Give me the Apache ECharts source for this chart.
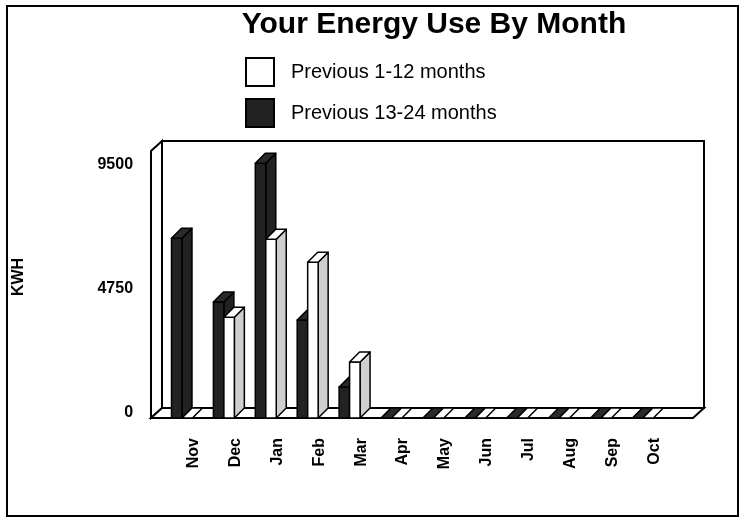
<!DOCTYPE html>
<html>
<head>
<meta charset="utf-8">
<script src="https://cdn.jsdelivr.net/npm/echarts@6/dist/echarts.min.js"></script>
<style>html,body{margin:0;padding:0;background:#fff}#c{width:739px;height:519px}</style>
</head>
<body>
<div id="c"></div>
<script>
const months = ['Nov','Dec','Jan','Feb','Mar','Apr','May','Jun','Jul','Aug','Sep','Oct'];
const prev1to12 = [0, 3850, 6830, 5950, 2140, 0, 0, 0, 0, 0, 0, 0];
const prev13to24 = [6870, 4430, 9730, 3740, 1180, 0, 0, 0, 0, 0, 0, 0];
const yTicks = [0, 4750, 9500];
const S1 = 'Previous 1-12 months';
const S2 = 'Previous 13-24 months';

const FONT = 'Liberation Sans, Arial, Helvetica, sans-serif';
const DX = 10, DY = 10;

function barRenderer(offsetFrac, frontFill, sideFill, topFill) {
  return function (params, api) {
    const cat = api.value(0), val = api.value(1);
    const base = api.coord([cat, 0]);
    const top = api.coord([cat, val]);
    const bw = api.size([1, 0])[0];
    const w = 0.25 * bw;
    const x0 = base[0] + offsetFrac * bw;
    const yb = base[1], yt = top[1];
    const st = {stroke: '#000', lineWidth: 1.5, lineJoin: 'round'};
    const children = [];
    if (yb - yt > 0.5) {
      children.push({type: 'polygon', shape: {points: [[x0 + w, yb], [x0 + w, yt], [x0 + w + DX, yt - DY], [x0 + w + DX, yb - DY]]},
        style: Object.assign({fill: sideFill}, st)});
      children.push({type: 'rect', shape: {x: x0, y: yt, width: w, height: yb - yt},
        style: Object.assign({fill: frontFill}, st)});
    }
    children.push({type: 'polygon', shape: {points: [[x0, yt], [x0 + w, yt], [x0 + w + DX, yt - DY], [x0 + DX, yt - DY]]},
      style: Object.assign({fill: topFill}, st)});
    return {type: 'group', children: children};
  };
}

const chart = echarts.init(document.getElementById('c'), null, {renderer: 'canvas'});
chart.setOption({
  animation: false,
  backgroundColor: '#fff',
  title: {
    text: 'Your Energy Use By Month', left: 434, top: 10, textAlign: 'center', padding: 0,
    textStyle: {fontSize: 30, fontWeight: 'bold', color: '#000', fontFamily: FONT}
  },
  legend: {
    orient: 'vertical', left: 245, top: 57, itemWidth: 28, itemHeight: 28, itemGap: 11, padding: 0,
    selectedMode: false,
    data: [
      {name: S1, icon: 'rect', itemStyle: {color: '#fff', borderColor: '#000', borderWidth: 2}},
      {name: S2, icon: 'rect', itemStyle: {color: '#222222', borderColor: '#000', borderWidth: 2}}
    ],
    textStyle: {fontSize: 20, color: '#000', fontFamily: FONT, padding: [0, 0, 6, 12]}
  },
  graphic: [
    {type: 'rect', z: 0, shape: {x: 7, y: 6, width: 731, height: 510}, style: {fill: 'none', stroke: '#000', lineWidth: 2}},
    {type: 'rect', z: 0, shape: {x: 162, y: 141, width: 542, height: 267}, style: {fill: '#fff', stroke: '#000', lineWidth: 2}},
    {type: 'polygon', z: 0, shape: {points: [[151, 418], [151, 151], [162, 141], [162, 408]]}, style: {fill: '#fff', stroke: '#000', lineWidth: 2}},
    {type: 'polygon', z: 0, shape: {points: [[151, 418], [693, 418], [704, 408], [162, 408]]}, style: {fill: '#fff', stroke: '#000', lineWidth: 2}},
    {type: 'text', z: 10, x: 19, y: 277, rotation: Math.PI / 2,
      style: {text: 'KWH', fill: '#000', font: 'bold 16px ' + FONT, textAlign: 'center', textVerticalAlign: 'middle'}}
  ],
  grid: {left: 172.55, right: 63.65, top: 151, bottom: 101},
  xAxis: {
    type: 'category', data: months, boundaryGap: true,
    axisLine: {show: false}, axisTick: {show: false}, splitLine: {show: false},
    axisLabel: {interval: 0, rotate: 90, margin: 20, fontSize: 16, fontWeight: 'bold', color: '#000', fontFamily: FONT}
  },
  yAxis: {
    type: 'value', min: 0, max: 10200, interval: 4750,
    axisLine: {show: false}, axisTick: {show: false}, splitLine: {show: false},
    axisLabel: {
      margin: 39.5, fontSize: 16, fontWeight: 'bold', color: '#000', fontFamily: FONT,
      verticalAlign: 'bottom', lineHeight: 10,
      formatter: function (v) { return yTicks.indexOf(v) >= 0 ? String(v) : ''; }
    }
  },
  series: [
    {
      name: S2, type: 'custom', z: 5,
      itemStyle: {color: '#222222', borderColor: '#000'},
      renderItem: barRenderer(-0.525, '#222222', '#222222', '#2a2a2a'),
      encode: {x: 0, y: 1},
      data: prev13to24.map(function (v, i) { return [i, v]; })
    },
    {
      name: S1, type: 'custom', z: 6,
      itemStyle: {color: '#fff', borderColor: '#000'},
      renderItem: barRenderer(-0.275, '#ffffff', '#cfcfcf', '#ffffff'),
      encode: {x: 0, y: 1},
      data: prev1to12.map(function (v, i) { return [i, v]; })
    }
  ]
});
</script>
</body>
</html>
